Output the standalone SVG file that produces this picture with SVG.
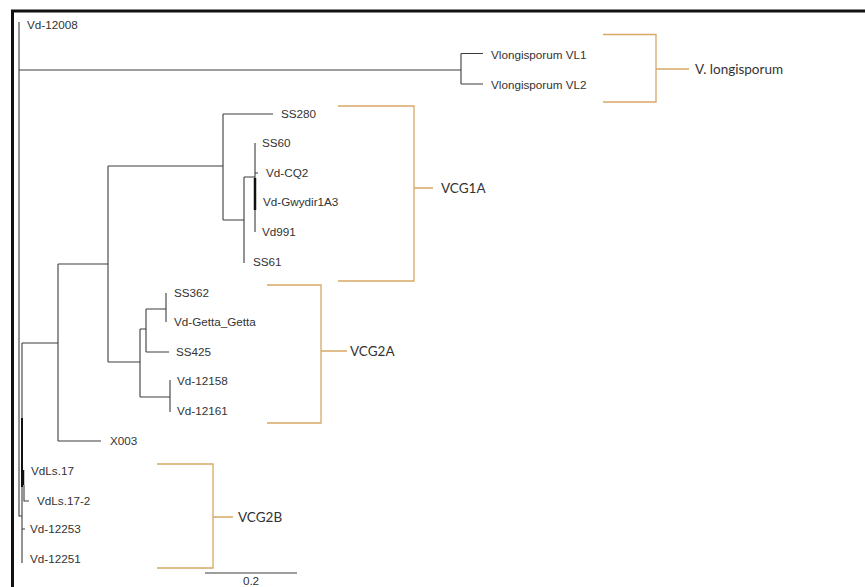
<svg xmlns="http://www.w3.org/2000/svg" width="865" height="587" viewBox="0 0 865 587">
<style>
.t{font-family:"Liberation Sans",Arial,sans-serif;font-size:11.7px;fill:#333}
.g{font-family:Lato,"Open Sans",sans-serif;font-size:13.5px;fill:#333}
.e{fill:none;stroke:#3c3c3c;stroke-width:1.1}
.b{fill:none;stroke:#d6a866;stroke-width:1.3}
</style>
<rect width="865" height="587" fill="#fff"/>
<path d="M12.5,587 V11 H865" fill="none" stroke="#111" stroke-width="3"/>
<g id="connectors">
<path class="e" d="M19,22 V516 H22"/>
<path class="e" d="M19,70 H461 M461,53.5 V84 M461,53.5 H483 M461,84 H483"/>
<path class="e" d="M22,343 V563 M22,343 H58 M58,264 V441 M58,441 H101 M58,264 H108"/>
<path class="e" d="M108,166 V362 M108,166 H223 M108,362 H140"/>
<path class="e" d="M223,114 V220 M223,114 H273 M223,220 H244 M244,177 V263 M244,177 H255 M255,143 V232 M255,173 H258"/>
<path d="M255,178 V210" stroke="#111" stroke-width="2.5"/>
<path class="e" d="M140,329 V397 M140,329 H146 M146,309 V352 M146,309 H166 M166,293 V322 M146,352 H169 M140,397 H170 M170,380 V412"/>
<path d="M22,418 V487" stroke="#111" stroke-width="2"/>
<path d="M23,470 V485" stroke="#111" stroke-width="2.5"/>
<path class="e" d="M24,485 V501 H29 M22,529 H25"/>
<path class="e" d="M205,573 H297"/>
</g>
<g id="leaves">
<g id="n-vd12008"><text class="t" x="27" y="29.2">Vd-12008</text></g>
<g id="n-vl1"><text class="t" x="491" y="59">Vlongisporum VL1</text></g>
<g id="n-vl2"><text class="t" x="491" y="88.5">Vlongisporum VL2</text></g>
<g id="n-ss280"><text class="t" x="281" y="118.2">SS280</text></g>
<g id="n-ss60"><text class="t" x="262" y="147.2">SS60</text></g>
<g id="n-vdcq2"><text class="t" x="266" y="177.2">Vd-CQ2</text></g>
<g id="n-gwydir"><text class="t" x="263" y="206.2">Vd-Gwydir1A3</text></g>
<g id="n-vd991"><text class="t" x="262" y="236.2">Vd991</text></g>
<g id="n-ss61"><text class="t" x="253" y="266.2">SS61</text></g>
<g id="n-ss362"><text class="t" x="174" y="297.2">SS362</text></g>
<g id="n-getta"><text class="t" x="174" y="326.2">Vd-Getta_Getta</text></g>
<g id="n-ss425"><text class="t" x="176" y="356.2">SS425</text></g>
<g id="n-vd12158"><text class="t" x="177" y="385.2">Vd-12158</text></g>
<g id="n-vd12161"><text class="t" x="177" y="415.2">Vd-12161</text></g>
<g id="n-x003"><text class="t" x="110" y="445.2">X003</text></g>
<g id="n-vdls17"><text class="t" x="31" y="475.2">VdLs.17</text></g>
<g id="n-vdls172"><text class="t" x="37" y="505.2">VdLs.17-2</text></g>
<g id="n-vd12253"><text class="t" x="30" y="533.2">Vd-12253</text></g>
<g id="n-vd12251"><text class="t" x="30" y="563.2">Vd-12251</text></g>
<g id="scale"><text class="t" x="251" y="585" text-anchor="middle" font-size="11px">0.2</text></g>
</g>
<g id="groups">
<g id="g-vlong"><path class="b" d="M603,34.5 H656 V102 H603 M656,69 H689"/><text class="g" x="695" y="74" font-size="14">V. longisporum</text></g>
<g id="g-vcg1a"><path class="b" d="M338,106 H414 V281 H338 M414,188 H433"/><text class="g" x="441" y="193">VCG1A</text></g>
<g id="g-vcg2a"><path class="b" d="M267,285 H321 V423 H267 M321,351 H347"/><text class="g" x="350" y="356">VCG2A</text></g>
<g id="g-vcg2b"><path class="b" d="M157,464 H213 V568 H157 M213,517 H233"/><text class="g" x="238" y="522">VCG2B</text></g>
</g>
</svg>
